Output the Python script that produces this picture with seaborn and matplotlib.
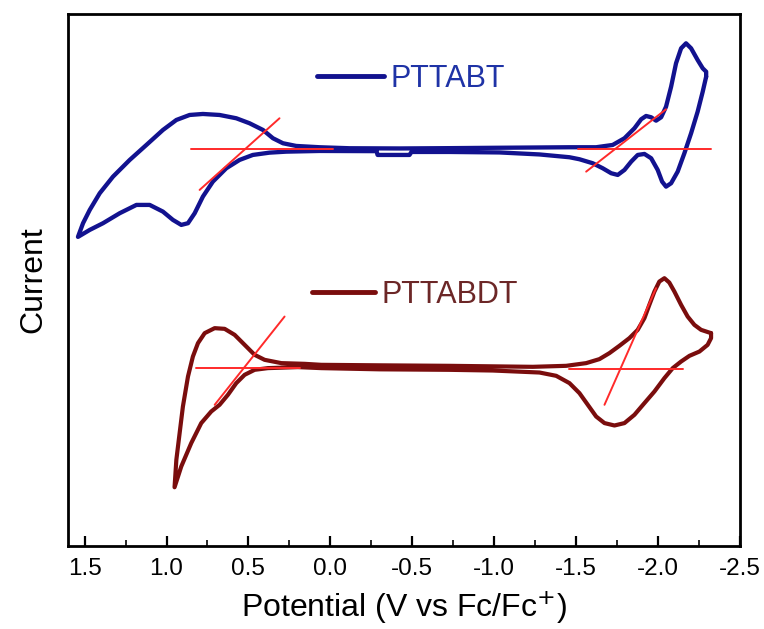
import numpy as np
import pandas as pd
import matplotlib
matplotlib.use("Agg")
import matplotlib.pyplot as plt
import seaborn as sns
from matplotlib.lines import Line2D

# ---------------- data (potential in V vs Fc/Fc+, current in arbitrary units) -------------
pttabt_v = [-2.296, -2.296, -2.275, -2.244, -2.204, -2.173, -2.143, -2.112, -2.082, -2.051,
            -2.021, -1.990, -1.960, -1.929, -1.899, -1.858, -1.797, -1.725, -1.624, -1.461,
            -1.034, -0.728, -0.423, -0.118, 0.065, 0.208, 0.289, 0.350, 0.411, 0.493,
            0.574, 0.676, 0.778, 0.859, 0.940, 1.022, 1.123, 1.225, 1.327, 1.408,
            1.469, 1.510, 1.541,
            1.469, 1.388, 1.286, 1.184, 1.103, 1.022, 0.961, 0.910, 0.869, 0.828,
            0.778, 0.717, 0.635, 0.554, 0.473, 0.371, 0.269, 0.065, -0.283, -0.289,
            -0.484, -0.496, -0.728, -1.034, -1.278, -1.461, -1.522, -1.603, -1.664, -1.716,
            -1.756, -1.797, -1.838, -1.878, -1.919, -1.960, -2.000, -2.027, -2.051, -2.082,
            -2.122, -2.163, -2.204, -2.244, -2.275, -2.296]
pttabt_i = [46.93, 47.43, 47.77, 48.60, 49.77, 50.27, 49.77, 48.27, 45.93, 43.93,
            42.87, 42.53, 42.87, 43.00, 42.67, 41.77, 40.77, 40.10, 39.87, 39.87,
            39.82, 39.78, 39.75, 39.77, 39.87, 40.00, 40.27, 40.77, 41.60, 42.27,
            42.77, 43.10, 43.20, 43.10, 42.60, 41.60, 40.10, 38.60, 36.93, 35.27,
            33.60, 32.27, 30.90,
            31.60, 32.27, 33.27, 34.10, 34.10, 33.43, 32.60, 32.10, 32.27, 33.27,
            34.93, 36.43, 37.77, 38.60, 39.10, 39.33, 39.43, 39.50, 39.48, 39.10,
            39.10, 39.40, 39.40, 39.35, 39.15, 38.87, 38.67, 38.27, 37.77, 37.27,
            37.10, 37.60, 38.43, 39.10, 39.20, 38.77, 37.60, 36.43, 35.93, 36.27,
            37.43, 39.27, 41.27, 43.43, 45.43, 46.93]

pttabdt_v = [-2.326, -2.265, -2.224, -2.183, -2.143, -2.102, -2.071, -2.041, -2.010, -1.980,
             -1.949, -1.919, -1.878, -1.827, -1.766, -1.705, -1.644, -1.563, -1.441, -1.237,
             -0.728, -0.301, 0.055, 0.157, 0.299, 0.401, 0.462, 0.523, 0.584, 0.645,
             0.706, 0.767, 0.808, 0.839, 0.869, 0.900, 0.920, 0.940, 0.951,
             0.910, 0.849, 0.788, 0.727, 0.676, 0.625, 0.574, 0.523, 0.462, 0.381,
             0.198, 0.055, -0.301, -0.728, -0.993, -1.136, -1.278, -1.380, -1.461, -1.522,
             -1.573, -1.624, -1.675, -1.736, -1.797, -1.858, -1.919, -1.980, -2.041, -2.092,
             -2.143, -2.194, -2.255, -2.305, -2.326, -2.326]
pttabdt_i = [21.27, 21.60, 22.10, 22.93, 24.10, 25.43, 26.33, 26.77, 26.43, 25.43,
             24.10, 22.77, 21.60, 20.77, 20.00, 19.27, 18.67, 18.27, 18.00, 17.90,
             18.00, 18.05, 18.10, 18.20, 18.27, 18.60, 19.10, 20.10, 21.10, 21.70,
             21.77, 21.27, 20.27, 18.93, 16.93, 13.93, 11.27, 8.60, 5.85,
             7.93, 10.27, 12.27, 13.43, 14.10, 15.10, 16.27, 17.10, 17.60, 17.77,
             17.87, 17.77, 17.65, 17.60, 17.53, 17.43, 17.33, 17.00, 16.27, 15.27,
             14.10, 12.93, 12.27, 12.03, 12.27, 13.10, 14.27, 15.43, 16.77, 17.77,
             18.43, 19.00, 19.43, 20.10, 20.77, 21.27]

# onset tangent lines (pairs of endpoints)
tangent_v = [[0.849, -0.016], [0.798, 0.310], [-1.512, -2.326], [-1.563, -2.051],
             [0.818, 0.187], [0.706, 0.279], [-1.461, -2.153], [-1.675, -1.990]]
tangent_i = [[39.7, 39.7], [35.6, 42.77], [39.7, 39.7], [37.43, 43.67],
             [17.77, 17.77], [14.1, 22.93], [17.7, 17.7], [14.1, 25.77]]

x_ticks = [1.5, 1.0, 0.5, 0.0, -0.5, -1.0, -1.5, -2.0, -2.5]
x_tick_labels = ["1.5", "1.0", "0.5", "0.0", "-0.5", "-1.0", "-1.5", "-2.0", "-2.5"]

# ---------------- style ----------------
sns.set_theme(style="ticks")
plt.rcParams['font.family'] = ['Liberation Sans', 'DejaVu Sans']

blue = "#12128f"
blue_txt = "#1f33a6"
brown = "#7a0d0d"
brown_txt = "#6c2727"
red = "#ff2a2a"

fig = plt.figure(figsize=(7.64, 6.29), dpi=100)
ax = fig.add_axes([0.0894, 0.1324, 0.8786, 0.8453])

df_a = pd.DataFrame({"Potential": pttabt_v, "Current": pttabt_i})
df_b = pd.DataFrame({"Potential": pttabdt_v, "Current": pttabdt_i})

sns.lineplot(data=df_a, x="Potential", y="Current", sort=False, estimator=None,
             color=blue, linewidth=3.1, solid_joinstyle='round', solid_capstyle='round', ax=ax)
sns.lineplot(data=df_b, x="Potential", y="Current", sort=False, estimator=None,
             color=brown, linewidth=3.0, solid_joinstyle='round', solid_capstyle='round', ax=ax)

for tv, ti in zip(tangent_v, tangent_i):
    ax.plot(tv, ti, color=red, linewidth=1.4, zorder=3)

ax.set_xlim(1.6, -2.5)
ax.set_ylim(0, 53.2)
ax.set_xticks(x_ticks)
ax.set_xticklabels(x_tick_labels)
ax.set_xticks(np.arange(1.25, -2.5, -0.5), minor=True)
ax.set_yticks([])
ax.tick_params(axis='x', which='major', direction='in', length=7, width=1.6,
               labelsize=17.5, pad=9, colors='black', top=False)
ax.tick_params(axis='x', which='minor', direction='in', length=4, width=1.4, top=False)
for s in ax.spines.values():
    s.set_visible(True)
    s.set_linewidth(2.0)
    s.set_color('black')

ax.set_xlabel("Potential (V vs Fc/Fc$^{+}$)", fontsize=23, labelpad=6, color='black')
ax.set_ylabel("Current", fontsize=23, labelpad=14, color='black')

h1 = Line2D([], [], color=blue, linewidth=3.5)
h2 = Line2D([], [], color=brown, linewidth=3.5)
leg1 = ax.legend(handles=[h1], labels=["PTTABT"], loc='center left',
                 bbox_to_anchor=(0.370, 0.878), frameon=False, fontsize=22,
                 handlelength=2.2, handletextpad=0.22, borderpad=0, borderaxespad=0)
for t in leg1.get_texts():
    t.set_color(blue_txt)
ax.add_artist(leg1)
leg2 = ax.legend(handles=[h2], labels=["PTTABDT"], loc='center left',
                 bbox_to_anchor=(0.3626, 0.4715), frameon=False, fontsize=22,
                 handlelength=2.07, handletextpad=0.22, borderpad=0, borderaxespad=0)
for t in leg2.get_texts():
    t.set_color(brown_txt)

fig.savefig("out.png", dpi=100)
